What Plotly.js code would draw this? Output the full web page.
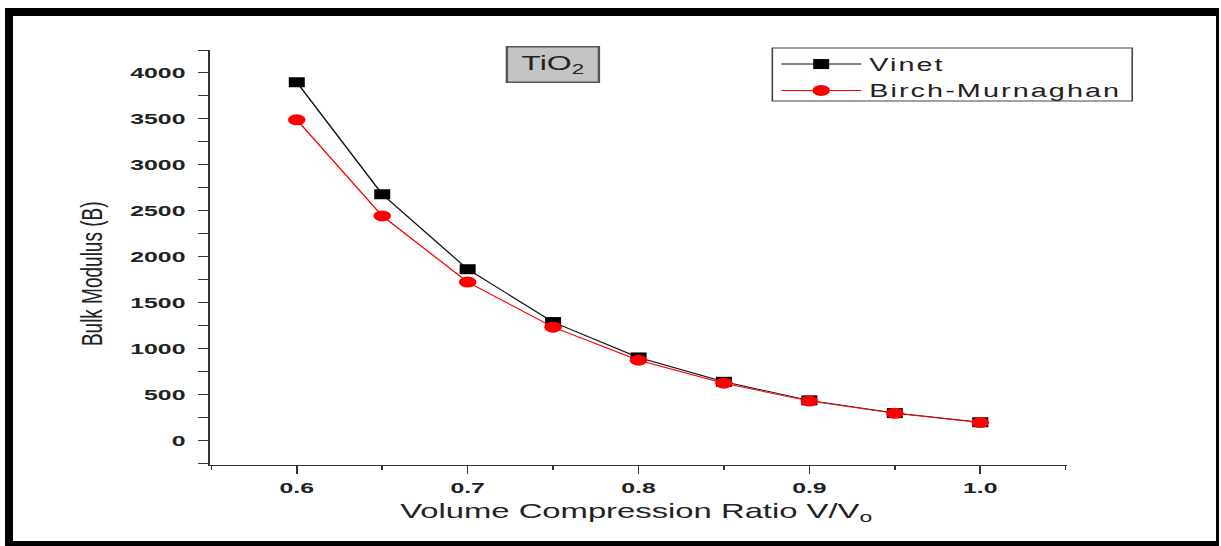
<!DOCTYPE html>
<html>
<head>
<meta charset="utf-8">
<script src="https://cdn.plot.ly/plotly-3.0.1.min.js"></script>
<style>
html,body{margin:0;padding:0;background:#fff;width:1221px;height:546px;overflow:hidden;}
#chart{position:absolute;left:0;top:0;width:763px;height:546px;transform:scaleX(1.6003);transform-origin:0 0;}
#frame{position:absolute;left:5px;top:8px;width:1214px;height:538px;box-sizing:border-box;border-left:8px solid #000;border-top:8px solid #000;border-right:3px solid #000;border-bottom:5px solid #000;pointer-events:none;}
</style>
</head>
<body>
<div id="chart"></div>
<div id="frame"></div>
<script>
const ratio = [0.60, 0.65, 0.70, 0.75, 0.80, 0.85, 0.90, 0.95, 1.00];
const vinet = [3900, 2680, 1865, 1290, 905, 640, 438, 300, 200];
const birchMurnaghan = [3490, 2445, 1725, 1235, 875, 625, 430, 298, 197];
const xTickVals = [0.6, 0.7, 0.8, 0.9, 1.0];
const xTickText = ['0.6', '0.7', '0.8', '0.9', '1.0'];
const yTickVals = [0, 500, 1000, 1500, 2000, 2500, 3000, 3500, 4000];

const tickFont = {family: 'Liberation Sans, Arial, sans-serif', size: 15.5, color: '#222', weight: 'bold'};

const traces = [
  {x: ratio, y: vinet, name: 'Vinet', type: 'scatter', mode: 'lines+markers',
   line: {color: '#111', width: 1}, marker: {symbol: 'square', size: 10, color: '#000'}},
  {x: ratio, y: birchMurnaghan, name: 'Birch-Murnaghan', type: 'scatter', mode: 'lines+markers',
   line: {color: '#ff0000', width: 1}, marker: {symbol: 'circle', size: 11, color: '#ff0000'}}
];

const layout = {
  width: 763, height: 546,
  margin: {l: 131, r: 96, t: 50, b: 81},
  paper_bgcolor: 'rgba(0,0,0,0)', plot_bgcolor: 'rgba(0,0,0,0)',
  font: {family: 'Liberation Sans, Arial, sans-serif', color: '#222'},
  showlegend: true,
  legend: {x: 0.657, y: 1.01, xanchor: 'left', yanchor: 'top',
    bgcolor: 'rgba(0,0,0,0)', borderwidth: 0,
    font: {size: 18, color: '#222'}, itemwidth: 50, tracegroupgap: 0},
  shapes: [
    {type: 'rect', xref: 'paper', yref: 'paper', x0: 0.656, x1: 1.0756, y0: 0.877, y1: 1.0048,
     line: {color: '#444', width: 1}, fillcolor: 'rgba(255,255,255,0)', layer: 'above'}
  ],
  xaxis: {range: [0.549, 1.051], tickvals: xTickVals, ticktext: xTickText,
    showgrid: false, zeroline: false, showline: true, linecolor: '#333', linewidth: 1,
    ticks: 'outside', ticklen: 8, tickcolor: '#333', tickwidth: 1, tickfont: tickFont,
    minor: {dtick: 0.05, ticks: 'outside', ticklen: 4, tickcolor: '#333', showgrid: false}},
  yaxis: {range: [-265, 4250], tickvals: yTickVals,
    showgrid: false, zeroline: false, showline: true, linecolor: '#333', linewidth: 1,
    ticks: 'outside', ticklen: 6, tickcolor: '#333', tickwidth: 1, tickfont: tickFont,
    ticklabelstandoff: 5,
    minor: {dtick: 250, tick0: 0, ticks: 'outside', ticklen: 6, tickcolor: '#333', showgrid: false}},
  annotations: [
    {text: 'TiO<sub>2</sub>', xref: 'paper', yref: 'paper', x: 0.401, y: 0.966,
     xanchor: 'center', yanchor: 'middle', showarrow: false,
     font: {size: 20, color: '#222'}, bgcolor: '#c4c4c4', bordercolor: '#555', borderwidth: 1.5,
     width: 54, height: 32, borderpad: 1},
    {text: 'Bulk Modulus (B)', xref: 'paper', yref: 'paper', x: -0.138, y: 0.46,
     xanchor: 'center', yanchor: 'middle', showarrow: false, textangle: -90,
     font: {size: 19, color: '#222'}},
    {text: 'Volume Compression Ratio V/V<sub>o</sub>', xref: 'paper', yref: 'paper', x: 0.497, y: -0.113,
     xanchor: 'center', yanchor: 'middle', showarrow: false,
     font: {size: 20.5, color: '#222'}}
  ]
};

Plotly.newPlot('chart', traces, layout, {displayModeBar: false, staticPlot: true}).then(function (gd) {
  gd.querySelectorAll('.legend [clip-path]').forEach(function (el) { el.removeAttribute('clip-path'); });
  gd.querySelectorAll('.legendtext').forEach(function (el) { el.style.letterSpacing = '1.3px'; });
});
</script>
</body>
</html>
